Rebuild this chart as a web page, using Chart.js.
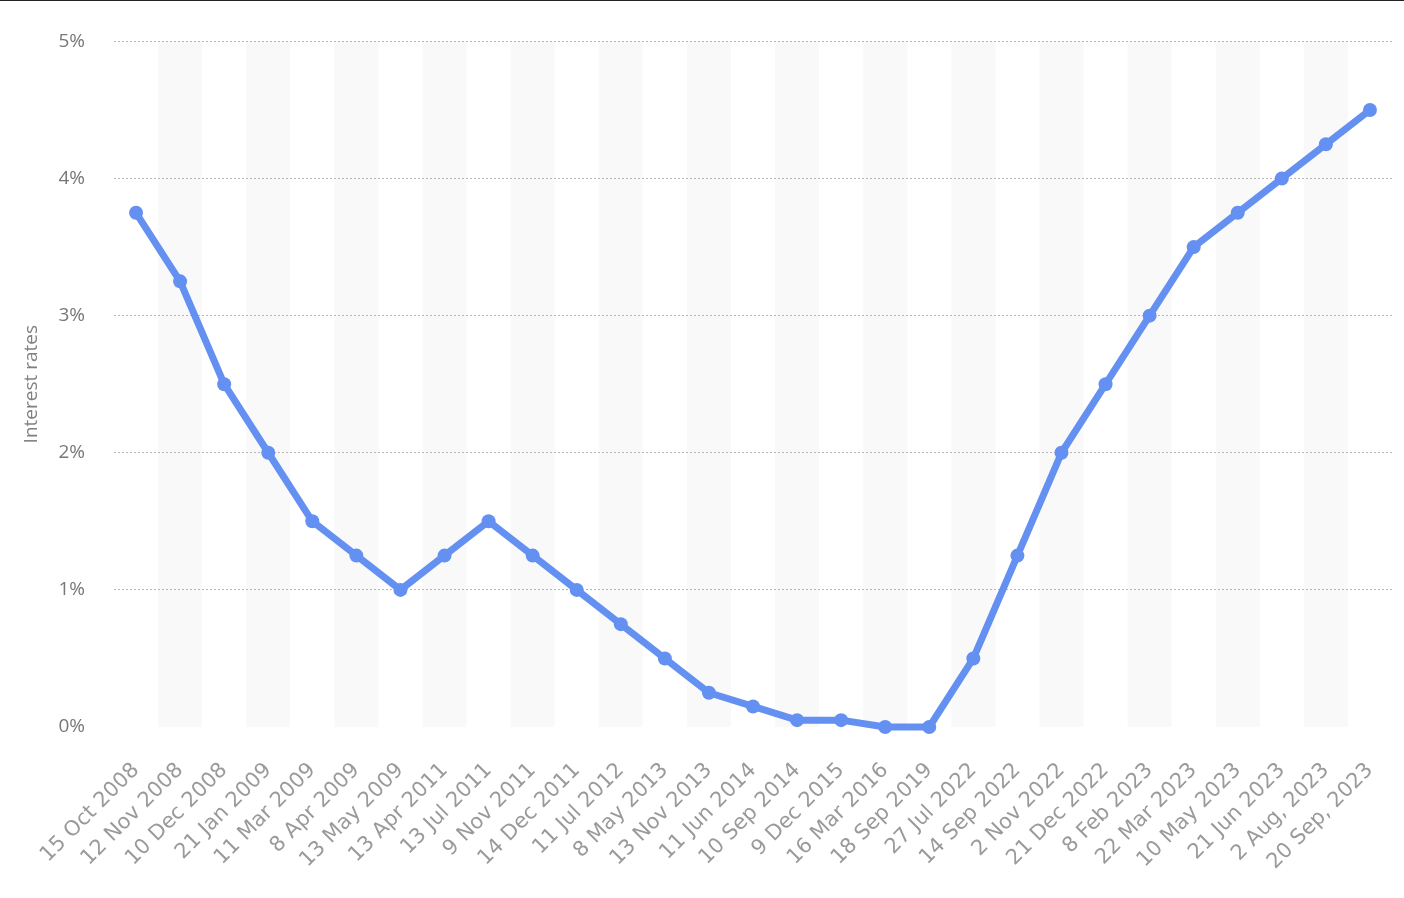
<!DOCTYPE html>
<html>
<head>
<meta charset="utf-8">
<script src="https://cdn.jsdelivr.net/npm/chart.js@4/dist/chart.umd.min.js"></script>
<style>
  html, body { margin: 0; padding: 0; background: #fff; }
  body { border-top: 1px solid #222; }
  #wrap { width: 1404px; height: 897px; }
</style>
</head>
<body>
<div id="wrap"><canvas id="rateChart"></canvas></div>
<script>
// Data tanggal keputusan suku bunga
const categories = ['15 Oct 2008', '12 Nov 2008', '10 Dec 2008', '21 Jan 2009', '11 Mar 2009', '8 Apr 2009',
    '13 May 2009', '13 Apr 2011', '13 Jul 2011', '9 Nov 2011', '14 Dec 2011', '11 Jul 2012', '8 May 2013',
    '13 Nov 2013', '11 Jun 2014', '10 Sep 2014', '9 Dec 2015', '16 Mar 2016', '18 Sep 2019', '27 Jul 2022',
    '14 Sep 2022', '2 Nov 2022', '21 Dec 2022', '8 Feb 2023', '22 Mar 2023', '10 May 2023', '21 Jun 2023',
    '2 Aug, 2023', '20 Sep, 2023'];

const rates = [3.75, 3.25, 2.5, 2, 1.5, 1.25, 1, 1.25, 1.5, 1.25, 1, 0.75, 0.5, 0.25, 0.15, 0.05, 0.05, 0, 0,
    0.5, 1.25, 2, 2.5, 3, 3.5, 3.75, 4, 4.25, 4.5];

const yTicks = [0, 1, 2, 3, 4, 5];

// Garis-garis latar abu-abu (kolom selang-seling)
const stripes = {
    id: 'stripes',
    beforeDraw(chart) {
        const { ctx, chartArea, scales } = chart;
        const x = scales.x;
        const w = x.getPixelForValue(1) - x.getPixelForValue(0);
        ctx.save();
        ctx.fillStyle = '#f9f9f9';
        for (let i = 1; i < categories.length; i += 2) {
            const cx = x.getPixelForValue(i);
            ctx.fillRect(cx - w / 2, chartArea.top, w, chartArea.bottom - chartArea.top);
        }
        ctx.restore();
    }
};

function drawChart() {
    const ctx = document.getElementById('rateChart').getContext('2d');
    new Chart(ctx, {
        type: 'line',
        data: {
            labels: categories,
            datasets: [{
                label: 'Interest rates',
                data: rates,
                borderColor: '#6490f1',
                backgroundColor: '#6490f1',
                borderWidth: 7,
                borderJoinStyle: 'round',
                borderCapStyle: 'round',
                tension: 0,
                pointRadius: 7,
                pointBorderWidth: 0,
                pointHoverRadius: 7,
                clip: false
            }]
        },
        options: {
            responsive: true,
            maintainAspectRatio: false,
            animation: false,
            events: [],
            layout: { padding: { top: 39, right: 12, left: 0, bottom: 0 } },
            plugins: {
                legend: { display: false },
                tooltip: { enabled: false }
            },
            scales: {
                x: {
                    offset: true,
                    grid: { display: false, drawTicks: false },
                    border: { display: false },
                    ticks: {
                        autoSkip: false,
                        maxRotation: 45,
                        minRotation: 45,
                        padding: 31,
                        color: '#9a9a9a',
                        font: { family: 'DejaVu Sans', size: 21 }
                    },
                    afterFit(scale) {
                        scale.height = 171;
                        scale.paddingLeft = 0;
                        scale.paddingRight = 0;
                    }
                },
                y: {
                    min: yTicks[0],
                    max: yTicks[yTicks.length - 1],
                    afterBuildTicks(scale) { scale.ticks = yTicks.map(v => ({ value: v })); },
                    grid: {
                        drawTicks: false,
                        color: c => c.tick.value === 0 ? 'rgba(0,0,0,0)' : '#b5b5b5',
                        lineWidth: 1
                    },
                    border: { display: false, dash: [2, 2] },
                    ticks: {
                        padding: 29,
                        color: '#777',
                        font: { family: 'Open Sans', size: 19 },
                        callback: v => v + '%'
                    },
                    title: {
                        display: true,
                        text: 'Interest rates',
                        color: '#808080',
                        font: { family: 'Open Sans', size: 19 },
                        padding: { top: 20, bottom: 0 }
                    },
                    afterFit(scale) { scale.width = 114; }
                }
            }
        },
        plugins: [stripes]
    });
}

window.addEventListener('load', function () {
    drawChart();
});
</script>
</body>
</html>
